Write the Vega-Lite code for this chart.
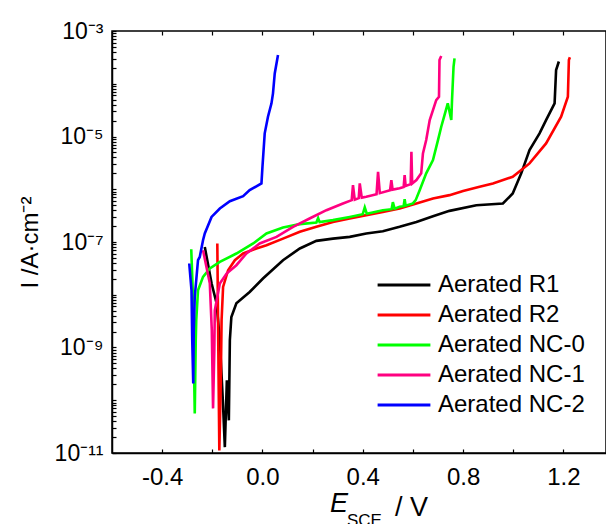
{
  "$schema": "https://vega.github.io/schema/vega-lite/v6.json",
  "autosize": {"type": "none"},
  "padding": {"left": 112, "top": 31, "right": 0, "bottom": 71},
  "width": 494,
  "height": 422,
  "background": "white",
  "config": {
    "font": "Liberation Sans",
    "view": {"stroke": "black", "strokeWidth": 1.5},
    "axis": {"domainColor": "black", "domainWidth": 1.5, "tickColor": "black", "tickWidth": 1.2, "labelColor": "black", "titleColor": "black", "grid": false}
  },
  "title": {
    "text": "E",
    "subtitle": "\u200b\u2002\u2002SCE",
    "orient": "bottom",
    "anchor": "start",
    "frame": "group",
    "dx": 218,
    "dy": -33,
    "fontSize": 27,
    "fontStyle": "italic",
    "fontWeight": "normal",
    "color": "black",
    "subtitleFontSize": 17,
    "subtitleColor": "black",
    "subtitlePadding": -5
  },
  "data": {"values": [
    {"s": "Aerated R1", "i": 1, "E": -0.230, "I": 8.07e-8},
    {"s": "Aerated R1", "i": 2, "E": -0.203, "I": 1.65e-8},
    {"s": "Aerated R1", "i": 3, "E": -0.183, "I": 6.9e-9},
    {"s": "Aerated R1", "i": 4, "E": -0.170, "I": 1.37e-9},
    {"s": "Aerated R1", "i": 5, "E": -0.158, "I": 1.0e-10},
    {"s": "Aerated R1", "i": 6, "E": -0.150, "I": 1.29e-11},
    {"s": "Aerated R1", "i": 7, "E": -0.142, "I": 2.39e-10},
    {"s": "Aerated R1", "i": 8, "E": -0.134, "I": 4.16e-11},
    {"s": "Aerated R1", "i": 9, "E": -0.130, "I": 1.37e-9},
    {"s": "Aerated R1", "i": 10, "E": -0.124, "I": 3.79e-9},
    {"s": "Aerated R1", "i": 11, "E": -0.104, "I": 6.9e-9},
    {"s": "Aerated R1", "i": 12, "E": -0.051, "I": 1.13e-8},
    {"s": "Aerated R1", "i": 13, "E": 0.002, "I": 2.03e-8},
    {"s": "Aerated R1", "i": 14, "E": 0.082, "I": 4.52e-8},
    {"s": "Aerated R1", "i": 15, "E": 0.149, "I": 7.53e-8},
    {"s": "Aerated R1", "i": 16, "E": 0.215, "I": 1.05e-7},
    {"s": "Aerated R1", "i": 17, "E": 0.281, "I": 1.16e-7},
    {"s": "Aerated R1", "i": 18, "E": 0.348, "I": 1.25e-7},
    {"s": "Aerated R1", "i": 19, "E": 0.414, "I": 1.45e-7},
    {"s": "Aerated R1", "i": 20, "E": 0.480, "I": 1.60e-7},
    {"s": "Aerated R1", "i": 21, "E": 0.547, "I": 1.94e-7},
    {"s": "Aerated R1", "i": 22, "E": 0.614, "I": 2.40e-7},
    {"s": "Aerated R1", "i": 23, "E": 0.680, "I": 3.09e-7},
    {"s": "Aerated R1", "i": 24, "E": 0.746, "I": 3.89e-7},
    {"s": "Aerated R1", "i": 25, "E": 0.853, "I": 4.99e-7},
    {"s": "Aerated R1", "i": 26, "E": 0.959, "I": 5.38e-7},
    {"s": "Aerated R1", "i": 27, "E": 0.998, "I": 8.32e-7},
    {"s": "Aerated R1", "i": 28, "E": 1.032, "I": 2.0e-6},
    {"s": "Aerated R1", "i": 29, "E": 1.065, "I": 5.52e-6},
    {"s": "Aerated R1", "i": 30, "E": 1.105, "I": 1.15e-5},
    {"s": "Aerated R1", "i": 31, "E": 1.131, "I": 2.05e-5},
    {"s": "Aerated R1", "i": 32, "E": 1.165, "I": 4.25e-5},
    {"s": "Aerated R1", "i": 33, "E": 1.171, "I": 1.82e-4},
    {"s": "Aerated R1", "i": 34, "E": 1.182, "I": 2.64e-4},

    {"s": "Aerated R2", "i": 1, "E": -0.180, "I": 9.37e-8},
    {"s": "Aerated R2", "i": 2, "E": -0.176, "I": 8.85e-10},
    {"s": "Aerated R2", "i": 3, "E": -0.172, "I": 1.12e-11},
    {"s": "Aerated R2", "i": 4, "E": -0.166, "I": 2.39e-10},
    {"s": "Aerated R2", "i": 5, "E": -0.163, "I": 3.28e-9},
    {"s": "Aerated R2", "i": 6, "E": -0.157, "I": 1.41e-8},
    {"s": "Aerated R2", "i": 7, "E": -0.137, "I": 2.92e-8},
    {"s": "Aerated R2", "i": 8, "E": -0.110, "I": 4.52e-8},
    {"s": "Aerated R2", "i": 9, "E": -0.077, "I": 6.05e-8},
    {"s": "Aerated R2", "i": 10, "E": -0.024, "I": 7.53e-8},
    {"s": "Aerated R2", "i": 11, "E": 0.016, "I": 8.69e-8},
    {"s": "Aerated R2", "i": 12, "E": 0.082, "I": 1.16e-7},
    {"s": "Aerated R2", "i": 13, "E": 0.149, "I": 1.56e-7},
    {"s": "Aerated R2", "i": 14, "E": 0.215, "I": 1.94e-7},
    {"s": "Aerated R2", "i": 15, "E": 0.281, "I": 2.40e-7},
    {"s": "Aerated R2", "i": 16, "E": 0.348, "I": 2.79e-7},
    {"s": "Aerated R2", "i": 17, "E": 0.414, "I": 3.23e-7},
    {"s": "Aerated R2", "i": 18, "E": 0.480, "I": 3.72e-7},
    {"s": "Aerated R2", "i": 19, "E": 0.547, "I": 4.32e-7},
    {"s": "Aerated R2", "i": 20, "E": 0.614, "I": 5.38e-7},
    {"s": "Aerated R2", "i": 21, "E": 0.680, "I": 6.69e-7},
    {"s": "Aerated R2", "i": 22, "E": 0.746, "I": 7.73e-7},
    {"s": "Aerated R2", "i": 23, "E": 0.800, "I": 9.3e-7},
    {"s": "Aerated R2", "i": 24, "E": 0.866, "I": 1.11e-6},
    {"s": "Aerated R2", "i": 25, "E": 0.919, "I": 1.29e-6},
    {"s": "Aerated R2", "i": 26, "E": 0.998, "I": 1.72e-6},
    {"s": "Aerated R2", "i": 27, "E": 1.065, "I": 3.09e-6},
    {"s": "Aerated R2", "i": 28, "E": 1.131, "I": 7.40e-6},
    {"s": "Aerated R2", "i": 29, "E": 1.191, "I": 2.37e-5},
    {"s": "Aerated R2", "i": 30, "E": 1.218, "I": 5.66e-5},
    {"s": "Aerated R2", "i": 31, "E": 1.222, "I": 2.82e-4},
    {"s": "Aerated R2", "i": 32, "E": 1.226, "I": 3.17e-4},

    {"s": "Aerated NC-0", "i": 1, "E": -0.284, "I": 7.3e-8},
    {"s": "Aerated NC-0", "i": 2, "E": -0.278, "I": 1.22e-8},
    {"s": "Aerated NC-0", "i": 3, "E": -0.274, "I": 8.85e-10},
    {"s": "Aerated NC-0", "i": 4, "E": -0.270, "I": 5.64e-11},
    {"s": "Aerated NC-0", "i": 5, "E": -0.266, "I": 1.37e-9},
    {"s": "Aerated NC-0", "i": 6, "E": -0.264, "I": 3.28e-9},
    {"s": "Aerated NC-0", "i": 7, "E": -0.257, "I": 1.22e-8},
    {"s": "Aerated NC-0", "i": 8, "E": -0.237, "I": 2.18e-8},
    {"s": "Aerated NC-0", "i": 9, "E": -0.210, "I": 3.14e-8},
    {"s": "Aerated NC-0", "i": 10, "E": -0.170, "I": 4.19e-8},
    {"s": "Aerated NC-0", "i": 11, "E": -0.104, "I": 6.05e-8},
    {"s": "Aerated NC-0", "i": 12, "E": -0.037, "I": 9.37e-8},
    {"s": "Aerated NC-0", "i": 13, "E": 0.016, "I": 1.45e-7},
    {"s": "Aerated NC-0", "i": 14, "E": 0.082, "I": 1.88e-7},
    {"s": "Aerated NC-0", "i": 15, "E": 0.149, "I": 2.18e-7},
    {"s": "Aerated NC-0", "i": 16, "E": 0.215, "I": 2.34e-7},
    {"s": "Aerated NC-0", "i": 17, "E": 0.222, "I": 2.83e-7},
    {"s": "Aerated NC-0", "i": 18, "E": 0.228, "I": 2.38e-7},
    {"s": "Aerated NC-0", "i": 19, "E": 0.281, "I": 2.6e-7},
    {"s": "Aerated NC-0", "i": 20, "E": 0.348, "I": 2.99e-7},
    {"s": "Aerated NC-0", "i": 21, "E": 0.400, "I": 3.37e-7},
    {"s": "Aerated NC-0", "i": 22, "E": 0.408, "I": 4.52e-7},
    {"s": "Aerated NC-0", "i": 23, "E": 0.416, "I": 3.44e-7},
    {"s": "Aerated NC-0", "i": 24, "E": 0.480, "I": 4.01e-7},
    {"s": "Aerated NC-0", "i": 25, "E": 0.515, "I": 4.19e-7},
    {"s": "Aerated NC-0", "i": 26, "E": 0.520, "I": 5.69e-7},
    {"s": "Aerated NC-0", "i": 27, "E": 0.527, "I": 4.28e-7},
    {"s": "Aerated NC-0", "i": 28, "E": 0.547, "I": 4.64e-7},
    {"s": "Aerated NC-0", "i": 29, "E": 0.563, "I": 4.78e-7},
    {"s": "Aerated NC-0", "i": 30, "E": 0.567, "I": 6.49e-7},
    {"s": "Aerated NC-0", "i": 31, "E": 0.571, "I": 4.89e-7},
    {"s": "Aerated NC-0", "i": 32, "E": 0.600, "I": 5.38e-7},
    {"s": "Aerated NC-0", "i": 33, "E": 0.611, "I": 6.21e-7},
    {"s": "Aerated NC-0", "i": 34, "E": 0.627, "I": 9.61e-7},
    {"s": "Aerated NC-0", "i": 35, "E": 0.653, "I": 2.0e-6},
    {"s": "Aerated NC-0", "i": 36, "E": 0.680, "I": 3.56e-6},
    {"s": "Aerated NC-0", "i": 37, "E": 0.700, "I": 8.55e-6},
    {"s": "Aerated NC-0", "i": 38, "E": 0.713, "I": 1.53e-5},
    {"s": "Aerated NC-0", "i": 39, "E": 0.726, "I": 2.55e-5},
    {"s": "Aerated NC-0", "i": 40, "E": 0.739, "I": 4.25e-5},
    {"s": "Aerated NC-0", "i": 41, "E": 0.753, "I": 2.05e-5},
    {"s": "Aerated NC-0", "i": 42, "E": 0.756, "I": 4.91e-5},
    {"s": "Aerated NC-0", "i": 43, "E": 0.762, "I": 2.10e-4},
    {"s": "Aerated NC-0", "i": 44, "E": 0.766, "I": 3.03e-4},

    {"s": "Aerated NC-1", "i": 1, "E": -0.237, "I": 6.98e-8},
    {"s": "Aerated NC-1", "i": 2, "E": -0.210, "I": 1.65e-8},
    {"s": "Aerated NC-1", "i": 3, "E": -0.202, "I": 2.12e-9},
    {"s": "Aerated NC-1", "i": 4, "E": -0.197, "I": 7.01e-11},
    {"s": "Aerated NC-1", "i": 5, "E": -0.192, "I": 8.85e-10},
    {"s": "Aerated NC-1", "i": 6, "E": -0.190, "I": 5.08e-9},
    {"s": "Aerated NC-1", "i": 7, "E": -0.170, "I": 1.63e-8},
    {"s": "Aerated NC-1", "i": 8, "E": -0.143, "I": 2.52e-8},
    {"s": "Aerated NC-1", "i": 9, "E": -0.104, "I": 3.63e-8},
    {"s": "Aerated NC-1", "i": 10, "E": -0.064, "I": 6.05e-8},
    {"s": "Aerated NC-1", "i": 11, "E": -0.011, "I": 9.37e-8},
    {"s": "Aerated NC-1", "i": 12, "E": 0.056, "I": 1.25e-7},
    {"s": "Aerated NC-1", "i": 13, "E": 0.122, "I": 1.94e-7},
    {"s": "Aerated NC-1", "i": 14, "E": 0.188, "I": 2.79e-7},
    {"s": "Aerated NC-1", "i": 15, "E": 0.255, "I": 4.01e-7},
    {"s": "Aerated NC-1", "i": 16, "E": 0.321, "I": 5.38e-7},
    {"s": "Aerated NC-1", "i": 17, "E": 0.356, "I": 6.21e-7},
    {"s": "Aerated NC-1", "i": 18, "E": 0.361, "I": 1.20e-6},
    {"s": "Aerated NC-1", "i": 19, "E": 0.368, "I": 6.35e-7},
    {"s": "Aerated NC-1", "i": 20, "E": 0.384, "I": 6.78e-7},
    {"s": "Aerated NC-1", "i": 21, "E": 0.388, "I": 1.29e-6},
    {"s": "Aerated NC-1", "i": 22, "E": 0.396, "I": 6.93e-7},
    {"s": "Aerated NC-1", "i": 23, "E": 0.414, "I": 7.18e-7},
    {"s": "Aerated NC-1", "i": 24, "E": 0.455, "I": 8.07e-7},
    {"s": "Aerated NC-1", "i": 25, "E": 0.461, "I": 2.14e-6},
    {"s": "Aerated NC-1", "i": 26, "E": 0.468, "I": 8.43e-7},
    {"s": "Aerated NC-1", "i": 27, "E": 0.509, "I": 9.61e-7},
    {"s": "Aerated NC-1", "i": 28, "E": 0.514, "I": 1.49e-6},
    {"s": "Aerated NC-1", "i": 29, "E": 0.519, "I": 9.83e-7},
    {"s": "Aerated NC-1", "i": 30, "E": 0.547, "I": 1.04e-6},
    {"s": "Aerated NC-1", "i": 31, "E": 0.563, "I": 1.10e-6},
    {"s": "Aerated NC-1", "i": 32, "E": 0.567, "I": 1.85e-6},
    {"s": "Aerated NC-1", "i": 33, "E": 0.571, "I": 1.15e-6},
    {"s": "Aerated NC-1", "i": 34, "E": 0.591, "I": 1.25e-6},
    {"s": "Aerated NC-1", "i": 35, "E": 0.594, "I": 5.13e-6},
    {"s": "Aerated NC-1", "i": 36, "E": 0.597, "I": 1.28e-6},
    {"s": "Aerated NC-1", "i": 37, "E": 0.614, "I": 1.49e-6},
    {"s": "Aerated NC-1", "i": 38, "E": 0.633, "I": 2.0e-6},
    {"s": "Aerated NC-1", "i": 39, "E": 0.640, "I": 4.78e-6},
    {"s": "Aerated NC-1", "i": 40, "E": 0.653, "I": 8.55e-6},
    {"s": "Aerated NC-1", "i": 41, "E": 0.667, "I": 2.05e-5},
    {"s": "Aerated NC-1", "i": 42, "E": 0.680, "I": 3.17e-5},
    {"s": "Aerated NC-1", "i": 43, "E": 0.693, "I": 4.91e-5},
    {"s": "Aerated NC-1", "i": 44, "E": 0.704, "I": 5.66e-5},
    {"s": "Aerated NC-1", "i": 45, "E": 0.706, "I": 2.82e-4},
    {"s": "Aerated NC-1", "i": 46, "E": 0.713, "I": 3.36e-4},

    {"s": "Aerated NC-2", "i": 1, "E": -0.292, "I": 3.91e-8},
    {"s": "Aerated NC-2", "i": 2, "E": -0.283, "I": 1.22e-8},
    {"s": "Aerated NC-2", "i": 3, "E": -0.280, "I": 1.37e-9},
    {"s": "Aerated NC-2", "i": 4, "E": -0.276, "I": 2.07e-10},
    {"s": "Aerated NC-2", "i": 5, "E": -0.274, "I": 2.12e-9},
    {"s": "Aerated NC-2", "i": 6, "E": -0.270, "I": 9.08e-9},
    {"s": "Aerated NC-2", "i": 7, "E": -0.257, "I": 4.52e-8},
    {"s": "Aerated NC-2", "i": 8, "E": -0.250, "I": 5.21e-8},
    {"s": "Aerated NC-2", "i": 9, "E": -0.237, "I": 1.08e-7},
    {"s": "Aerated NC-2", "i": 10, "E": -0.230, "I": 1.45e-7},
    {"s": "Aerated NC-2", "i": 11, "E": -0.203, "I": 2.99e-7},
    {"s": "Aerated NC-2", "i": 12, "E": -0.170, "I": 4.32e-7},
    {"s": "Aerated NC-2", "i": 13, "E": -0.130, "I": 5.94e-7},
    {"s": "Aerated NC-2", "i": 14, "E": -0.077, "I": 7.40e-7},
    {"s": "Aerated NC-2", "i": 15, "E": -0.051, "I": 9.61e-7},
    {"s": "Aerated NC-2", "i": 16, "E": -0.004, "I": 1.29e-6},
    {"s": "Aerated NC-2", "i": 17, "E": 0.000, "I": 2.66e-6},
    {"s": "Aerated NC-2", "i": 18, "E": 0.009, "I": 1.15e-5},
    {"s": "Aerated NC-2", "i": 19, "E": 0.022, "I": 2.37e-5},
    {"s": "Aerated NC-2", "i": 20, "E": 0.036, "I": 4.25e-5},
    {"s": "Aerated NC-2", "i": 21, "E": 0.042, "I": 6.58e-5},
    {"s": "Aerated NC-2", "i": 22, "E": 0.049, "I": 1.57e-4},
    {"s": "Aerated NC-2", "i": 23, "E": 0.062, "I": 3.51e-4}
  ]},
  "layer": [
    {
      "mark": {"type": "line", "strokeWidth": 2.6, "clip": true},
      "encoding": {
        "x": {
          "field": "E", "type": "quantitative",
          "scale": {"domain": [-0.6, 1.37], "nice": false, "zero": false},
          "axis": {
            "orient": "bottom",
            "values": [-0.4, -0.2, 0, 0.2, 0.4, 0.6, 0.8, 1.0, 1.2],
            "labelExpr": "abs(datum.value*2.5 - round(datum.value*2.5)) < 0.01 ? replace(format(datum.value, '.1f'), '\u2212', '-') : ''",
            "labelFontSize": 24,
            "labelPadding": 16,
            "labelFlush": false,
            "labelOverlap": false,
            "tickSize": -4,
            "encode": {"ticks": {"update": {"y2": {"signal": "abs(datum.value*2.5 - round(datum.value*2.5)) < 0.01 ? -8 : -4"}}}},
            "title": "/ V",
            "titleFontSize": 27,
            "titleFontWeight": "normal",
            "titleX": 299,
            "titleY": 62,
            "titleAlign": "center",
            "titleBaseline": "alphabetic"
          }
        },
        "y": {
          "field": "I", "type": "quantitative",
          "scale": {"type": "log", "domain": [1e-11, 1e-3], "nice": false},
          "axis": {
            "orient": "left",
            "values": [1e-11,2e-11,3e-11,4e-11,5e-11,6e-11,7e-11,8e-11,9e-11,1e-10,2e-10,3e-10,4e-10,5e-10,6e-10,7e-10,8e-10,9e-10,1e-9,2e-9,3e-9,4e-9,5e-9,6e-9,7e-9,8e-9,9e-9,1e-8,2e-8,3e-8,4e-8,5e-8,6e-8,7e-8,8e-8,9e-8,1e-7,2e-7,3e-7,4e-7,5e-7,6e-7,7e-7,8e-7,9e-7,1e-6,2e-6,3e-6,4e-6,5e-6,6e-6,7e-6,8e-6,9e-6,1e-5,2e-5,3e-5,4e-5,5e-5,6e-5,7e-5,8e-5,9e-5,1e-4,2e-4,3e-4,4e-4,5e-4,6e-4,7e-4,8e-4,9e-4,1e-3],
            "labelExpr": "abs(log(datum.value)/LN10+3)<0.01 ? '10\u207b\u00b3' : abs(log(datum.value)/LN10+5)<0.01 ? '10\u207b\u2075' : abs(log(datum.value)/LN10+7)<0.01 ? '10\u207b\u2077' : abs(log(datum.value)/LN10+9)<0.01 ? '10\u207b\u2079' : abs(log(datum.value)/LN10+11)<0.01 ? '10\u207b\u00b9\u00b9' : ''",
            "labelFontSize": 23,
            "labelPadding": 13,
            "labelFlush": false,
            "labelOverlap": false,
            "tickSize": -4,
            "encode": {"ticks": {"update": {"x2": {"signal": "abs(log(datum.value)/LN10 - round(log(datum.value)/LN10)) < 0.01 ? 8 : 4"}}}},
            "title": "I /A\u00b7cm\u207b\u00b2",
            "titleFontSize": 24,
            "titleFontWeight": "normal",
            "titlePadding": 12
          }
        },
        "color": {
          "field": "s", "type": "nominal",
          "scale": {
            "domain": ["Aerated R1", "Aerated R2", "Aerated NC-0", "Aerated NC-1", "Aerated NC-2"],
            "range": ["#000000", "#ff0000", "#00ff00", "#ff0080", "#0000ff"]
          },
          "legend": {
            "title": null,
            "orient": "none",
            "legendX": 274,
            "legendY": 236,
            "symbolType": "M-1.6,0H1.6",
            "symbolSize": 1089,
            "symbolStrokeWidth": 3,
            "labelFontSize": 24,
            "labelColor": "black",
            "labelOffset": 16,
            "rowPadding": -2,
            "padding": 0,
            "labelLimit": 300
          }
        },
        "order": {"field": "i", "type": "quantitative"}
      }
    },
    {
      "mark": {"type": "line", "opacity": 0, "clip": true},
      "encoding": {
        "x": {
          "field": "E", "type": "quantitative",
          "scale": {"domain": [-0.6, 1.37], "nice": false, "zero": false},
          "axis": {
            "orient": "top",
            "values": [-0.4, -0.2, 0, 0.2, 0.4, 0.6, 0.8, 1.0, 1.2],
            "labels": false,
            "title": null,
            "tickSize": -4,
            "domain": false
          }
        },
        "y": {"field": "I", "type": "quantitative", "axis": null},
        "detail": {"field": "s"},
        "order": {"field": "i", "type": "quantitative"}
      }
    }
  ],
  "resolve": {"axis": {"x": "independent", "y": "independent"}}
}
